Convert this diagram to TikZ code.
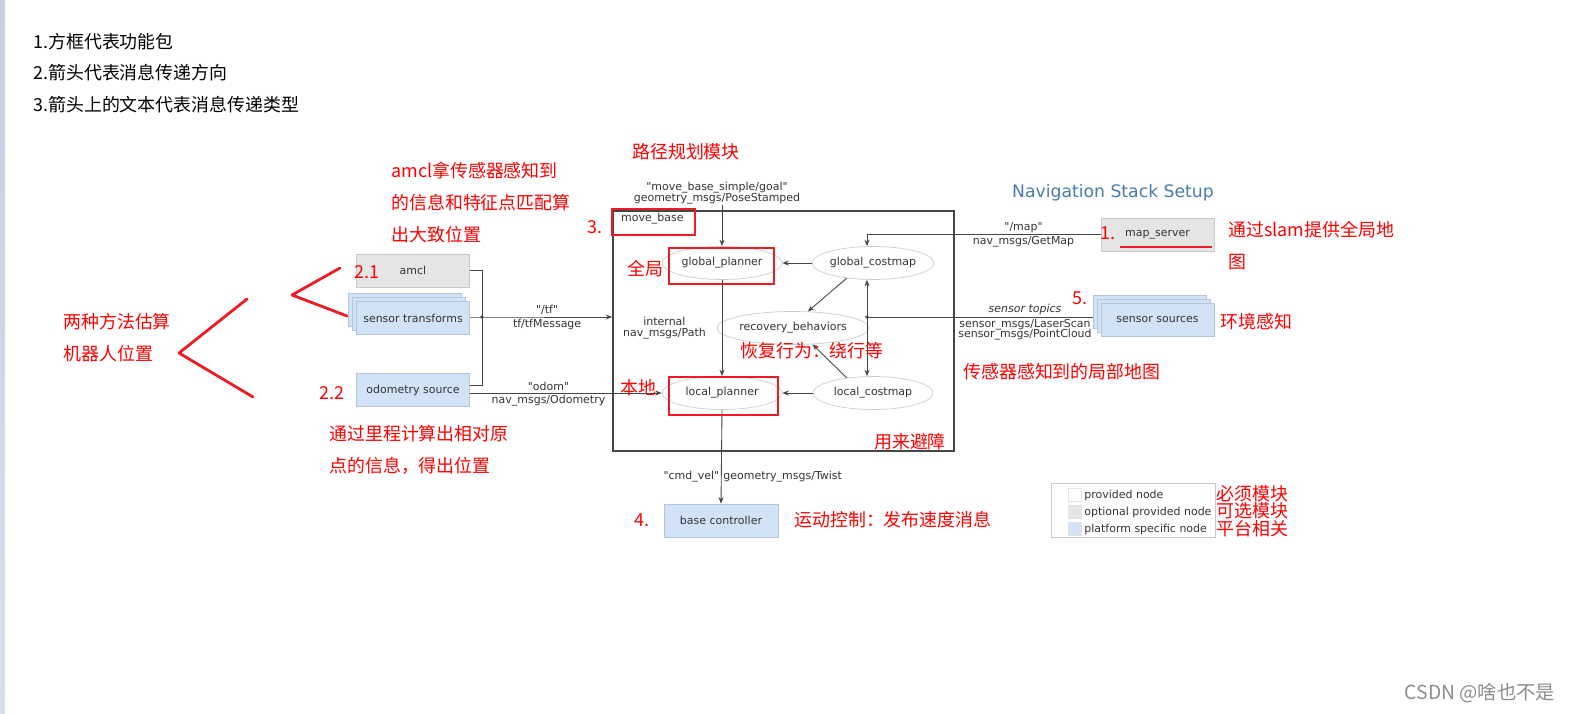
\documentclass[tikz,border=0pt]{standalone}
\usepackage{fontspec}
\setmainfont{DejaVu Sans}
\newfontfamily\cjkfont{Noto Sans CJK SC}
\usetikzlibrary{arrows.meta,positioning,calc,shapes.geometric}

\definecolor{optgray}{RGB}{229,229,229}
\definecolor{optedge}{RGB}{200,200,200}
\definecolor{platblue}{RGB}{211,227,247}
\definecolor{platedge}{RGB}{178,198,224}
\definecolor{ovaledge}{RGB}{205,205,205}
\definecolor{wiregray}{RGB}{70,70,70}
\definecolor{ink}{RGB}{51,51,51}
\definecolor{titleblue}{RGB}{74,122,170}
\definecolor{annot}{RGB}{236,28,36}
\definecolor{annottext}{RGB}{255,0,0}
\definecolor{striptop}{RGB}{200,208,225}
\definecolor{stripbot}{RGB}{216,224,238}

\begin{document}
\begin{tikzpicture}[
  x=0.02cm, y=-0.02cm,
  txt/.style={font=\fontsize{6.25}{7.5}\selectfont, text=ink},
  rosbox/.style={rectangle, draw, minimum width=2.26cm, minimum height=0.66cm, txt},
  optnode/.style={rosbox, fill=optgray, draw=optedge},
  platnode/.style={rosbox, fill=platblue, draw=platedge},
  oval/.style={ellipse, draw=ovaledge, fill=white, minimum width=2.4cm, minimum height=0.66cm, inner sep=0pt, txt},
  msg/.style={-{Stealth[length=0.13cm, width=0.1cm]}, draw=wiregray, line width=0.5pt},
  link/.style={draw=wiregray, line width=0.5pt},
  lbl/.style={txt, inner sep=1pt, align=center},
  note/.style={font=\cjkfont\fontsize{10.2}{18.1}\selectfont, text=annottext, align=left, inner sep=0pt},
  hilite/.style={draw=annot, line width=1.6pt},
  scribble/.style={draw=annot, line width=1.6pt, line cap=round, line join=round},
]
  \path[use as bounding box] (0,0) rectangle (1571,713);
  \shade[top color=striptop, bottom color=stripbot] (0,0) rectangle (5,713);

  % legend text on top
  \node[note, text=black, font=\cjkfont\fontsize{10.2}{17.9}\selectfont, anchor=north west] (howto) at (33,33)
    {1.方框代表功能包\\2.箭头代表消息传递方向\\3.箭头上的文本代表消息传递类型};

  % left side nodes
  \node[optnode] (amcl) at (413,270.5) {amcl};
  \foreach \k in {8,4}
    \node[platnode] (senstf-\k) at (413-\k,318-\k) {};
  \node[platnode] (senstf) at (413,318) {sensor transforms};
  \node[platnode] (odom) at (413,390) {odometry source};

  % move_base frame and its nodes
  \node[draw=wiregray, line width=0.9pt, minimum width=6.82cm, minimum height=4.8cm] (mbox) at (783.5,331) {};
  \node[txt, anchor=west] (mblabel) at (615,219) {move\_base};
  \node[oval] (gplan) at (722,263) {global\_planner};
  \node[oval] (gcost) at (873,263) {global\_costmap};
  \node[oval] (recov) at (793,328) {recovery\_behaviors};
  \node[oval] (lplan) at (722,393) {local\_planner};
  \node[oval] (lcost) at (873,393) {local\_costmap};

  % right side nodes
  \node[font=\fontsize{9.8}{11}\selectfont, text=titleblue] (title) at (1113,193) {Navigation Stack Setup};
  \node[optnode] (mapsrv) at (1157.5,234.5) {map\_server};
  \foreach \k in {8,4}
    \node[platnode] (senssrc-\k) at (1157.5-\k,319.5-\k) {};
  \node[platnode] (senssrc) at (1157.5,319.5) {sensor sources};
  \node[platnode, minimum width=2.28cm] (basectl) at (721,520.5) {base controller};

  % tf and odometry
  \coordinate (tfjoin) at (482,317);
  \draw[link] (amcl.east) -| (tfjoin);
  \draw[link] ([yshift=0.1cm]odom.east) -| (tfjoin);
  \draw[msg] (senstf.east |- tfjoin) -- (tfjoin) -- node[lbl, above] {\textquotedbl/tf\textquotedbl} node[lbl, below] {tf/tfMessage} (tfjoin -| mbox.west);
  \fill[wiregray] (tfjoin) circle (1.8);
  \draw[msg] (odom.east |- lplan) -- node[lbl, above, pos=0.41] {\textquotedbl odom\textquotedbl} node[lbl, below, pos=0.41] {nav\_msgs/Odometry} (lplan.west);

  % goal and planners
  \coordinate (goalsrc) at (722,205);
  \node[lbl, above, inner sep=0pt] (goallbl) at (717,204) {\textquotedbl move\_base\_simple/goal\textquotedbl\\[-1.5pt]geometry\_msgs/PoseStamped};
  \draw[msg] (goalsrc) -- (gplan.north);
  \draw[msg] (gplan.south) -- node[lbl, left=8pt] {internal\\[-1.5pt]nav\_msgs/Path} (lplan.north);
  \draw[msg] (gcost.west) -- (gplan.east);
  \draw[msg] (lcost.west) -- (lplan.east);
  \draw[msg] (gcost.210) -- (recov.48);
  \draw[msg] (lcost.150) -- (recov.-40);

  % map and sensors
  \draw[msg] (mapsrv.west) -| node[lbl, above, pos=0.165] {\textquotedbl/map\textquotedbl} node[lbl, below, pos=0.165] {nav\_msgs/GetMap} ([xshift=-0.12cm]gcost.north);
  \coordinate (sensjoin) at (867,317);
  \draw[link] (sensjoin -| senssrc-8.west) -- node[lbl, above, pos=0.3, font=\fontsize{6.25}{7.5}\selectfont\itshape] {sensor topics}
    node[lbl, below, pos=0.3] {sensor\_msgs/LaserScan\\[-1.5pt]sensor\_msgs/PointCloud} (sensjoin);
  \draw[msg] (sensjoin) -- (sensjoin |- gcost.south);
  \draw[msg] (sensjoin) -- (sensjoin |- lcost.north);
  \fill[wiregray] (sensjoin) circle (1.8);

  % velocity
  \draw[msg] (lplan.south) -- node[lbl, pos=0.71, left=0pt] {\textquotedbl cmd\_vel\textquotedbl} node[lbl, pos=0.71, right=0pt] {geometry\_msgs/Twist} (basectl.north);

  % key
  \node[draw=optedge, minimum width=3.28cm, minimum height=1.08cm] (legend) at (1133,510) {};
  \foreach \y/\c/\t/\n in {495/white/provided node/prov, 512/optgray/optional provided node/opt, 529/platblue/platform specific node/plat} {
    \node[draw=optedge!50, fill=\c, minimum size=0.26cm, inner sep=0pt] (key-\n) at (1074.5,\y) {};
    \node[txt, anchor=west, inner sep=0pt] (keytxt-\n) at (1084,\y) {\t};
  }

  % red notes
  \node[note, anchor=north west] (amclnote) at (391,162) {amcl拿传感器感知到\\的信息和特征点匹配算\\出大致位置};
  \node[note] (plannote) at (686,152) {路径规划模块};
  \node[note] (n3) at (595,227) {3.};
  \node[note] (globnote) at (645,269) {全局};
  \node[note] (locnote) at (638,388) {本地};
  \node[note] (recnote) at (812,351) {恢复行为：绕行等};
  \node[note] (avoidnote) at (910,442) {用来避障};
  \node[note] (n1) at (1108,233) {1.};
  \node[note, anchor=north west] (mapnote) at (1228,221) {通过slam提供全局地\\图};
  \node[note] (n5) at (1080,298) {5.};
  \node[note, anchor=west] (envnote) at (1220,322) {环境感知};
  \node[note, anchor=west] (localmapnote) at (963,372) {传感器感知到的局部地图};
  \node[note] (n4) at (642,520) {4.};
  \node[note, anchor=west] (velnote) at (794,520) {运动控制：发布速度消息};
  \node[note, anchor=west, font=\cjkfont\fontsize{10.2}{9.8}\selectfont] (keynote) at (1216,511) {必须模块\\可选模块\\平台相关};
  \node[note, anchor=north west] (estnote) at (63,313) {两种方法估算\\机器人位置};
  \node[note] (n21) at (367,272) {2.1};
  \node[note] (n22) at (332,393) {2.2};
  \node[note, anchor=north west] (odomnote) at (329,425) {通过里程计算出相对原\\点的信息，得出位置};

  % red marks
  \draw[hilite] (612,209) rectangle (695,235);
  \draw[hilite] (669,248) rectangle (774,284);
  \draw[hilite] (669,377) rectangle (778,415);
  \draw[annot, line width=1.4pt] (1120,247) -- (1212,247);
  \draw[scribble] (247,299) -- (179,353) -- (253,397);
  \draw[scribble] (340,268) -- (292,295) -- (347,316);

  \node[font=\cjkfont\fontsize{11}{12}\selectfont, text=black!45] (wm) at (1480,693) {CSDN @啥也不是};
\end{tikzpicture}
\end{document}
